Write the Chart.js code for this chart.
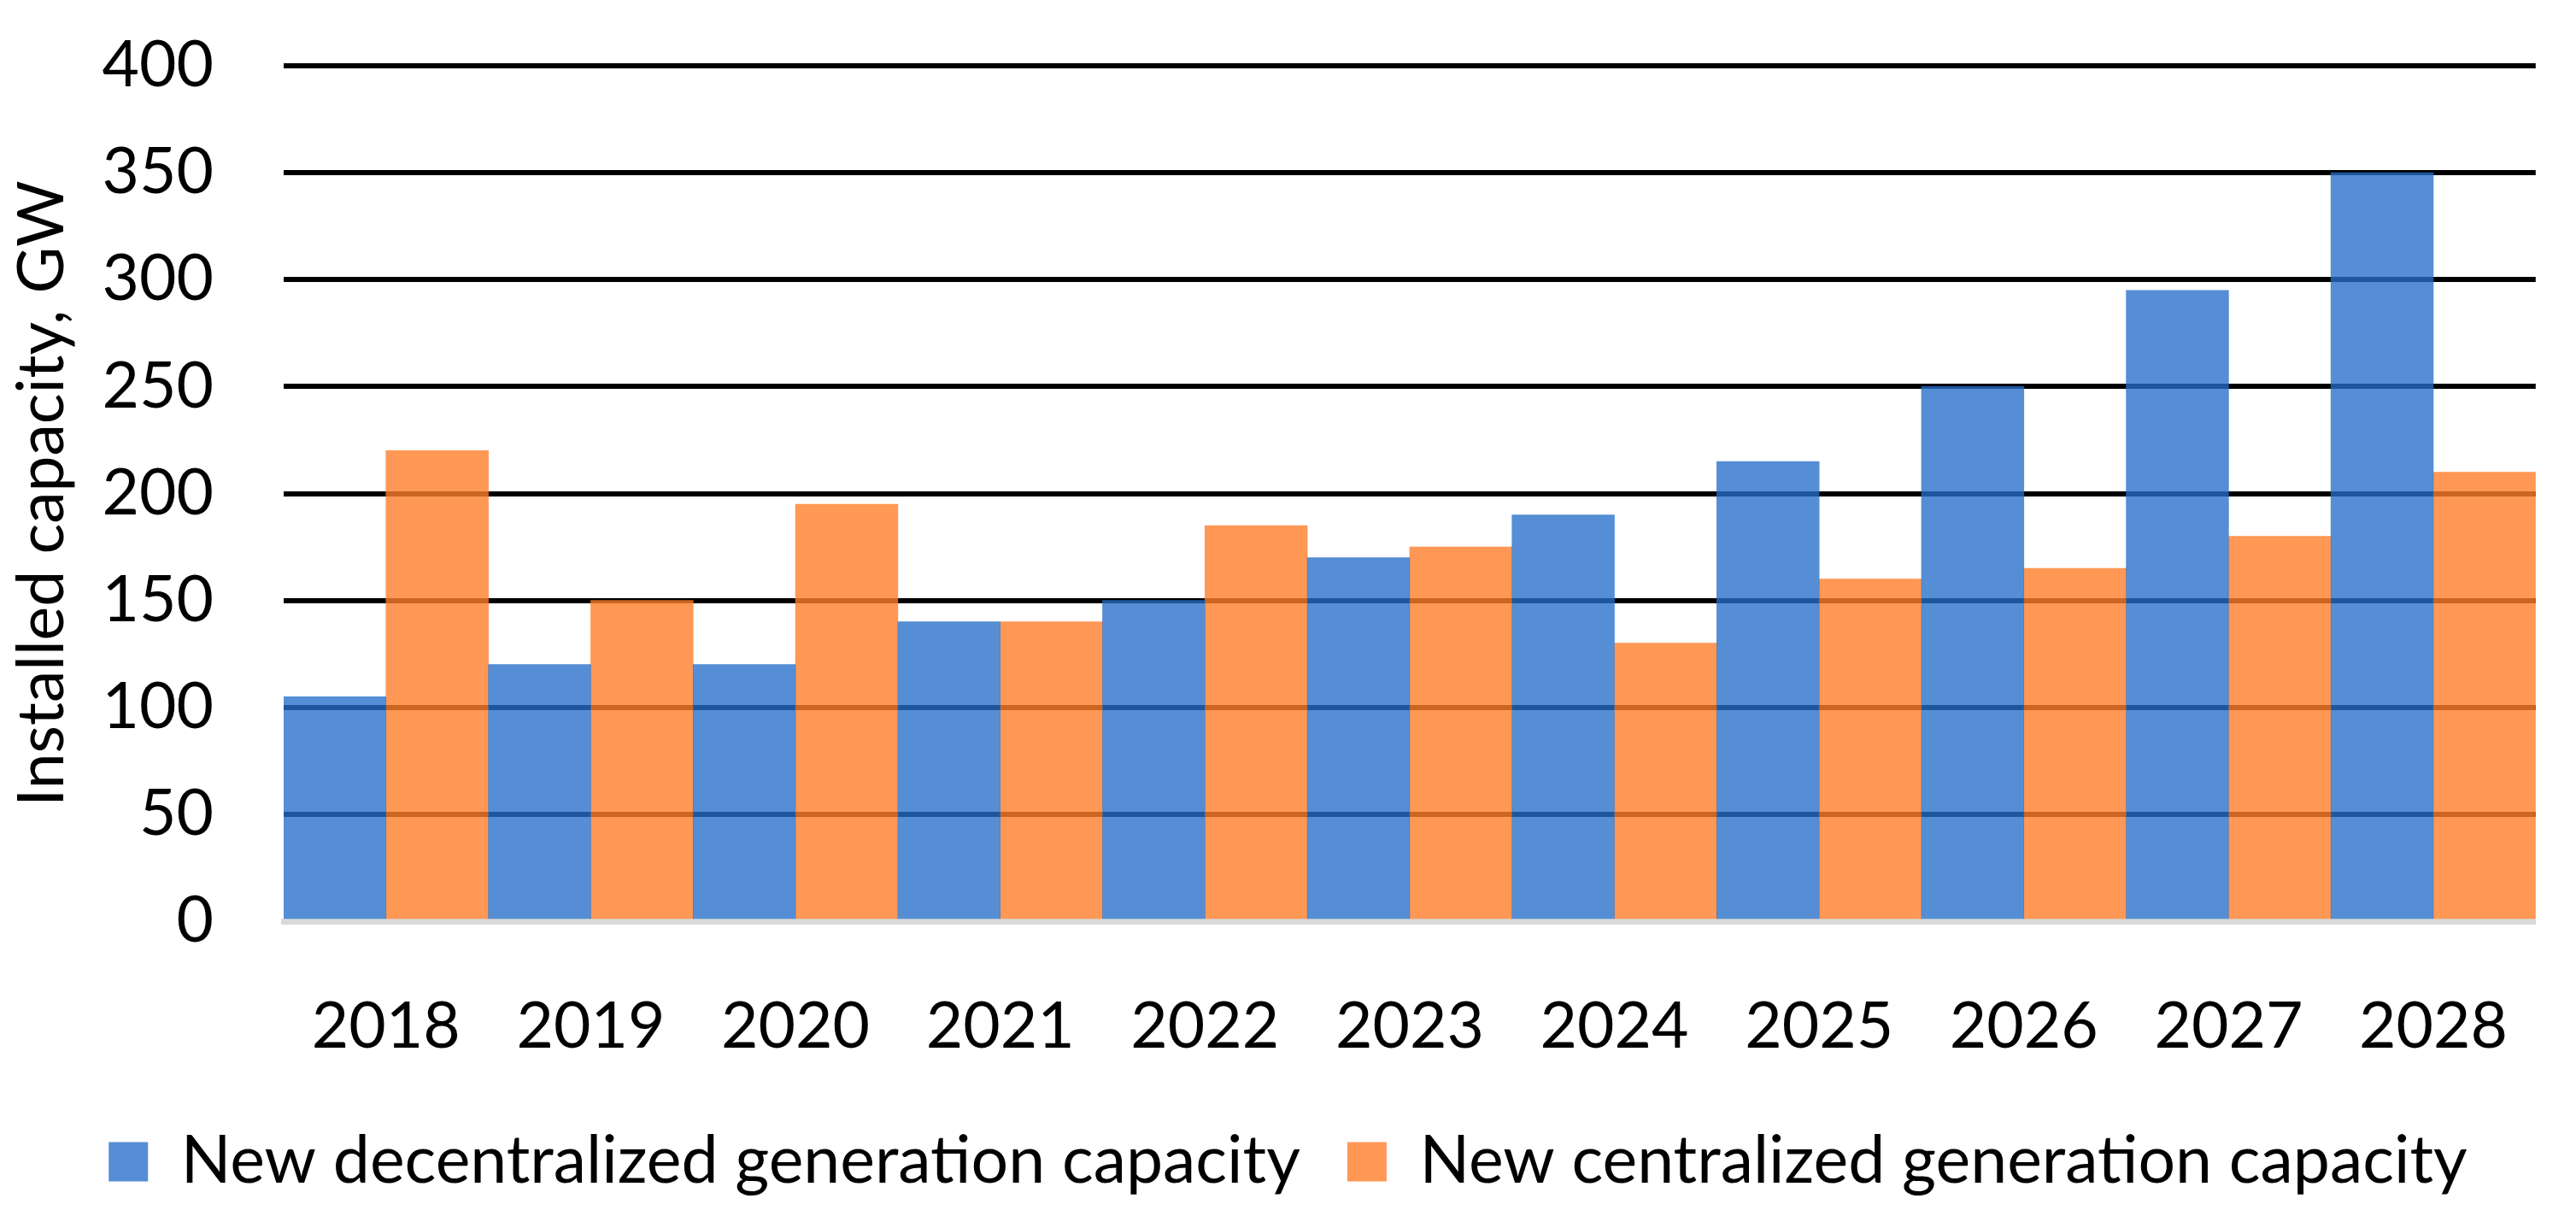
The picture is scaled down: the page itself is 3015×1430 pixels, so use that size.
<!DOCTYPE html>
<html>
<head>
<meta charset="utf-8">
<script src="https://cdn.jsdelivr.net/npm/chart.js@4.4.1/dist/chart.umd.min.js"></script>
<style>
  html, body { margin: 0; padding: 0; background: #ffffff; }
  #wrap { width: 3015px; height: 1430px; position: relative; }
</style>
</head>
<body>
<div id="wrap"><canvas id="c"></canvas></div>
<script>
const years = ['2018', '2019', '2020', '2021', '2022', '2023', '2024', '2025', '2026', '2027', '2028'];
const decentralized = [105, 120, 120, 140, 150, 170, 190, 215, 250, 295, 350];
const centralized = [220, 150, 195, 140, 185, 175, 130, 160, 165, 180, 210];
const seriesNames = ['New decentralized generation capacity', 'New centralized generation capacity'];
const yTitle = 'Installed capacity, GW';
const yMin = 0, yMax = 400, yStep = 50;

const FONT = 'Lato, "Open Sans", sans-serif';
const FS = 75;

new Chart(document.getElementById('c'), {
  type: 'bar',
  data: {
    labels: years,
    datasets: [
      { label: seriesNames[0], data: decentralized, backgroundColor: 'rgba(37,110,201,0.78)', borderWidth: 0 },
      { label: seriesNames[1], data: centralized, backgroundColor: 'rgba(255,126,42,0.8)', borderWidth: 0 }
    ]
  },
  options: {
    responsive: true,
    maintainAspectRatio: false,
    devicePixelRatio: 1,
    animation: false,
    layout: { padding: { left: 22, right: 22, top: 77, bottom: 22 } },
    datasets: { bar: { categoryPercentage: 1.0, barPercentage: 1.0 } },
    plugins: {
      tooltip: { enabled: false },
      legend: {
        position: 'bottom',
        labels: {
          font: { family: FONT, size: 77 },
          color: '#000000',
          boxWidth: 46,
          boxHeight: 46,
          padding: 55
        }
      }
    },
    scales: {
      x: {
        z: 1,
        grid: { display: false, drawTicks: false },
        border: { display: true, color: '#d9d9d9', width: 7 },
        ticks: { font: { family: FONT, size: FS }, color: '#000000', padding: 79, maxRotation: 0, autoSkip: false },
        afterFit: (s) => { s.height = 188; }
      },
      y: {
        min: yMin, max: yMax,
        grid: {
          drawTicks: false,
          lineWidth: 6,
          color: (ctx) => (ctx.tick && ctx.tick.value === 0) ? 'rgba(0,0,0,0)' : '#000000'
        },
        border: { display: false },
        ticks: { stepSize: yStep, font: { family: FONT, size: FS }, color: '#000000', padding: 82 },
        title: { display: true, text: yTitle, font: { family: FONT, size: FS }, color: '#000000', padding: { top: -17, bottom: 0 } },
        afterFit: (s) => { s.width = 310; s.paddingTop = 0; s.paddingBottom = 0; }
      }
    }
  }
});
</script>
</body>
</html>
